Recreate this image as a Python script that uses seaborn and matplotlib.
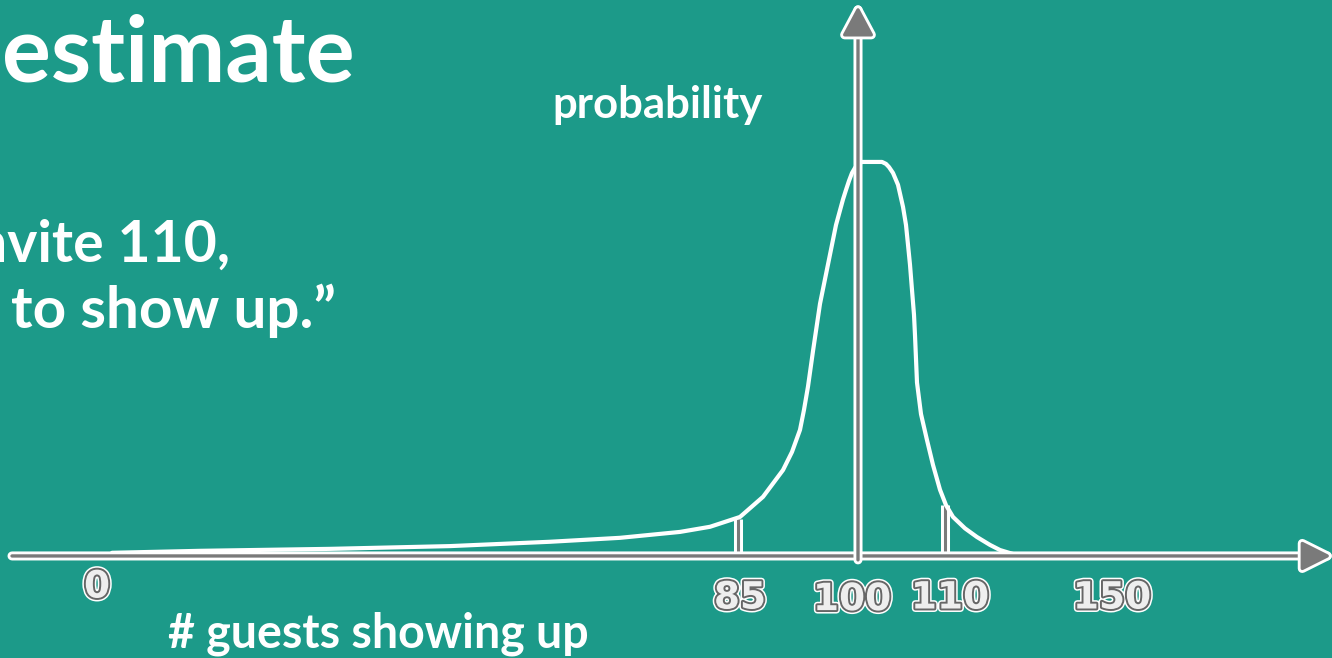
import matplotlib
matplotlib.use("Agg")
import matplotlib.pyplot as plt
import matplotlib.patheffects as pe
import numpy as np
import pandas as pd
import seaborn as sns

# sketch of the "how many guests show up" curve
# x is the position along the hand-drawn axis, y is relative probability (peak = 1)
curve_x = [112, 200, 330, 450, 550, 620, 680, 710, 740, 763, 783, 792, 800,
           804, 808, 813, 820, 828, 836, 843, 846, 849, 852, 855, 858, 862,
           872, 882, 886, 889, 893, 898, 903, 906, 908, 910, 912, 914, 915,
           917, 921, 927, 933, 940, 946, 953, 965, 977, 990, 1000, 1013]
curve_y = [0.008, 0.013, 0.018, 0.025, 0.036, 0.046, 0.061, 0.074, 0.099, 0.150,
           0.218, 0.264, 0.320, 0.371, 0.430, 0.520, 0.640, 0.740, 0.840, 0.905,
           0.929, 0.952, 0.972, 0.985, 0.994, 1.0, 1.0, 1.0, 0.995, 0.987,
           0.972, 0.942, 0.886, 0.840, 0.790, 0.739, 0.675, 0.612, 0.560,
           0.440, 0.360, 0.294, 0.231, 0.168, 0.129, 0.099, 0.070, 0.048,
           0.028, 0.015, 0.005]

tick_labels = ["0", "85", "100", "110", "150"]
tick_pos = [97, 740, 852, 950, 1112]
label_y = [-0.08, -0.108, -0.112, -0.108, -0.108]

# little marker lines at 85 and 110, up to the curve
mark_x = [738, 945]
mark_top = [0.094, 0.13]

bg = "#1c9a89"
grey = "#7a7a7a"

sns.set_theme(style="white")
plt.rcParams["font.family"] = ["Lato", "DejaVu Sans"]

fig = plt.figure(figsize=(13.32, 6.58), dpi=100, facecolor=bg)
ax = fig.add_axes([0, 0, 1, 1])
ax.set_facecolor(bg)
ax.set_xlim(0, 1332)
ax.set_ylim(-0.259, 1.411)
ax.axis("off")

outline = [pe.Stroke(linewidth=6.5, foreground="white"), pe.Normal()]

# axes drawn as arrows
ax.annotate("", xy=(1331, 0), xytext=(12, 0),
            arrowprops=dict(arrowstyle="-|>,head_length=1.5,head_width=0.75",
                            color=grey, lw=2.4, shrinkA=0, shrinkB=0,
                            path_effects=outline))
ax.annotate("", xy=(858, 1.395), xytext=(858, -0.01),
            arrowprops=dict(arrowstyle="-|>,head_length=1.5,head_width=0.8",
                            color=grey, lw=2.4, shrinkA=0, shrinkB=0,
                            path_effects=outline))

ax.vlines(mark_x, 0, mark_top, color=grey, lw=2.2, path_effects=outline)

df = pd.DataFrame({"x": curve_x, "y": curve_y})
sns.lineplot(data=df, x="x", y="y", sort=False, color="white", lw=3, ax=ax)
ax.axis("off")

for lab, x, y in zip(tick_labels, tick_pos, label_y):
    ax.text(x, y, lab, ha="center", va="center", fontsize=27, fontweight="bold",
            family="DejaVu Sans", color="#eeeeee",
            path_effects=[pe.Stroke(linewidth=5, foreground="white"),
                          pe.Stroke(linewidth=2.8, foreground="#666666"),
                          pe.Normal()])

W, H = 1332, 658


def ftext(x, y, s, size, ha="left"):
    fig.text(x / W, 1 - y / H, s, ha=ha, va="baseline", fontsize=size,
             fontweight="bold", color="white")


ftext(355, 82, "estimate", 66, ha="right")
ftext(230, 262, "nvite 110,", 41, ha="right")
ftext(336, 328, "to show up.\u201d", 42, ha="right")
ftext(552, 118, "probability", 31.5)
ftext(168, 647, "# guests showing up", 33.5)

fig.savefig("out.png", dpi=100, facecolor=bg)
